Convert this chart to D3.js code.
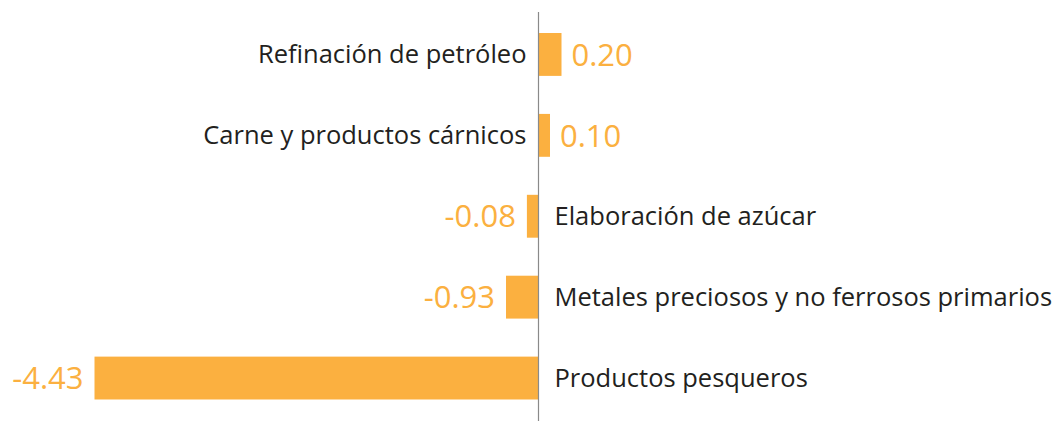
<!DOCTYPE html>
<html>
<head>
<meta charset="utf-8">
<script src="https://cdn.jsdelivr.net/npm/d3@7"></script>
<style>
    body { margin: 0; background: #fff; }
    .cat-label { font-family: "Open Sans", sans-serif; fill: #231f20; }
    .val-label { font-family: "Open Sans", sans-serif; fill: #fbb040; }
</style>
</head>
<body>
<div id="chart"></div>
<script>
// data
let categories = ["Refinación de petróleo", "Carne y productos cárnicos", "Elaboración de azúcar",
    "Metales preciosos y no ferrosos primarios", "Productos pesqueros"];
let values = [0.20, 0.10, -0.08, -0.93, -4.43];
let valueLabels = ["0.20", "0.10", "-0.08", "-0.93", "-4.43"];

let width = 1059, height = 421;

let svg = d3.select("#chart")
    .append("svg")
    .attr("width", width)
    .attr("height", height);

let rows = categories.map(function (c, i) {
    return {cat: c, value: values[i], label: valueLabels[i]};
});

// the original is not drawn to scale near zero, so use a piecewise (broken) x scale
let x = d3.scaleLinear()
    .domain([-4.43, -1, -0.1, 0, 0.2])
    .range([94.5, 504.5, 524, 538.5, 561.5]);

let y = d3.scaleBand()
    .domain(categories)
    .range([14, 418.5])
    .paddingInner(0.47)
    .paddingOuter(0.235);

// bars
svg.append("g")
    .selectAll("rect")
    .data(rows)
    .enter()
    .append("rect")
    .attr("x", function (d) { return Math.min(x(d.value), x(0)); })
    .attr("y", function (d) { return y(d.cat); })
    .attr("width", function (d) { return Math.abs(x(d.value) - x(0)); })
    .attr("height", y.bandwidth())
    .style("fill", "#fbb040");

// zero line
svg.append("line")
    .attr("x1", x(0)).attr("x2", x(0))
    .attr("y1", 12).attr("y2", height)
    .style("stroke", "#8a8a8a")
    .style("stroke-width", 1.2);

// category labels on the opposite side of the bar
svg.append("g")
    .selectAll("text")
    .data(rows)
    .enter()
    .append("text")
    .attr("class", "cat-label")
    .attr("x", function (d) { return d.value >= 0 ? x(0) - 12 : x(0) + 16; })
    .attr("y", function (d) { return y(d.cat) + y.bandwidth() / 2; })
    .attr("dy", "0.35em")
    .attr("text-anchor", function (d) { return d.value >= 0 ? "end" : "start"; })
    .style("font-size", "25.5px")
    .text(function (d) { return d.cat; });

// value labels at the end of the bar
svg.append("g")
    .selectAll("text")
    .data(rows)
    .enter()
    .append("text")
    .attr("class", "val-label")
    .attr("x", function (d) { return d.value >= 0 ? x(d.value) + 10 : x(d.value) - 11; })
    .attr("y", function (d) { return y(d.cat) + y.bandwidth() / 2; })
    .attr("dy", "0.36em")
    .attr("text-anchor", function (d) { return d.value >= 0 ? "start" : "end"; })
    .style("font-size", "31px")
    .text(function (d) { return d.label; });
</script>
</body>
</html>
